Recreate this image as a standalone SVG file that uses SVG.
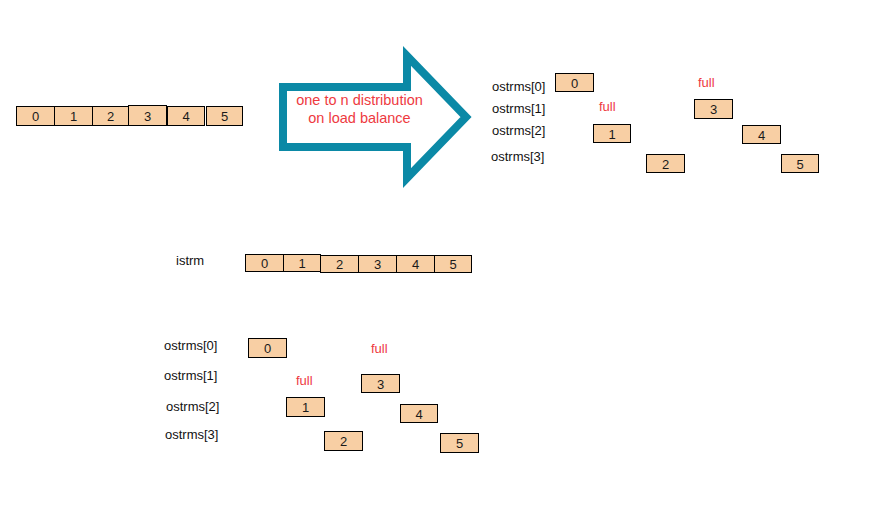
<svg xmlns="http://www.w3.org/2000/svg" width="873" height="509" viewBox="0 0 873 509">
<style>
.box{fill:#f8cfa4;stroke:#000;stroke-width:1}
.num{font-family:"Liberation Sans",Arial,sans-serif;font-size:13px;fill:#1a1a1a;text-anchor:middle}
.lbl{font-family:"Liberation Sans",Arial,sans-serif;font-size:13px;fill:#111}
.red{font-family:"Liberation Sans",Arial,sans-serif;font-size:13px;fill:#ee3a3f}
.big{font-size:14.5px}
</style>
<rect width="873" height="509" fill="#fff"/>
<g id="connectors">
<path id="bigArrow" d="M283,87 L407,87 L407,56 L466,117 L407,178 L407,147 L283,147 Z" fill="#fff" stroke="#0b89a6" stroke-width="8" stroke-linejoin="miter"/>
</g>
<g id="arrowLabel">
<text class="red big" x="359.5" y="105" text-anchor="middle">one to n distribution</text>
<text class="red big" x="359.5" y="122.5" text-anchor="middle">on load balance</text>
</g>
<g id="topStream">
<rect class="box" x="16.5" y="106.5" width="38" height="19"/><text class="num" x="35.5" y="121">0</text>
<rect class="box" x="54.5" y="106.5" width="38" height="19"/><text class="num" x="73.5" y="121">1</text>
<rect class="box" x="92.5" y="106.5" width="36" height="19"/><text class="num" x="110.5" y="121">2</text>
<rect class="box" x="128.5" y="105.5" width="38" height="20"/><text class="num" x="147.5" y="120.5">3</text>
<rect class="box" x="167.5" y="106.5" width="37" height="19"/><text class="num" x="186" y="120.5">4</text>
<rect class="box" x="206.5" y="106.5" width="36" height="19"/><text class="num" x="224.5" y="120.5">5</text>
</g>
<g id="topOut">
<text class="lbl" x="492" y="91">ostrms[0]</text>
<text class="lbl" x="492" y="113">ostrms[1]</text>
<text class="lbl" x="492" y="135">ostrms[2]</text>
<text class="lbl" x="491" y="161">ostrms[3]</text>
<text class="red" x="698" y="87">full</text>
<text class="red" x="599" y="111">full</text>
<rect class="box" x="555.5" y="73.5" width="38" height="18"/><text class="num" x="574.5" y="87.5">0</text>
<rect class="box" x="593.5" y="124.5" width="37" height="18"/><text class="num" x="612" y="138.5">1</text>
<rect class="box" x="646.5" y="154.5" width="38" height="18"/><text class="num" x="665.5" y="168.5">2</text>
<rect class="box" x="694.5" y="99.5" width="38" height="19"/><text class="num" x="713.5" y="114">3</text>
<rect class="box" x="742.5" y="125.5" width="38" height="18"/><text class="num" x="761.5" y="139.5">4</text>
<rect class="box" x="781.5" y="154.5" width="37" height="18"/><text class="num" x="800" y="168.5">5</text>
</g>
<g id="istrm">
<text class="lbl" x="176" y="265">istrm</text>
<rect class="box" x="245.5" y="254.5" width="38" height="17"/><text class="num" x="264.5" y="267.5">0</text>
<rect class="box" x="283.5" y="254.5" width="37" height="17"/><text class="num" x="302" y="267.5">1</text>
<rect class="box" x="320.5" y="255.5" width="38" height="17"/><text class="num" x="339.5" y="268.5">2</text>
<rect class="box" x="358.5" y="255.5" width="38" height="17"/><text class="num" x="377.5" y="268.5">3</text>
<rect class="box" x="396.5" y="255.5" width="38" height="17"/><text class="num" x="415.5" y="268.5">4</text>
<rect class="box" x="434.5" y="255.5" width="37" height="17"/><text class="num" x="453" y="268.5">5</text>
</g>
<g id="bottomOut">
<text class="lbl" x="164" y="350">ostrms[0]</text>
<text class="lbl" x="164" y="380">ostrms[1]</text>
<text class="lbl" x="166" y="411">ostrms[2]</text>
<text class="lbl" x="165" y="439">ostrms[3]</text>
<text class="red" x="371" y="353">full</text>
<text class="red" x="296" y="385">full</text>
<rect class="box" x="248.5" y="338.5" width="38" height="19"/><text class="num" x="267.5" y="353">0</text>
<rect class="box" x="286.5" y="397.5" width="38" height="19"/><text class="num" x="305.5" y="412">1</text>
<rect class="box" x="324.5" y="431.5" width="38" height="19"/><text class="num" x="343.5" y="446">2</text>
<rect class="box" x="361.5" y="374.5" width="38" height="18"/><text class="num" x="380.5" y="388.5">3</text>
<rect class="box" x="400.5" y="404.5" width="37" height="18"/><text class="num" x="419" y="418.5">4</text>
<rect class="box" x="440.5" y="433.5" width="38" height="19"/><text class="num" x="459.5" y="448">5</text>
</g>
</svg>
